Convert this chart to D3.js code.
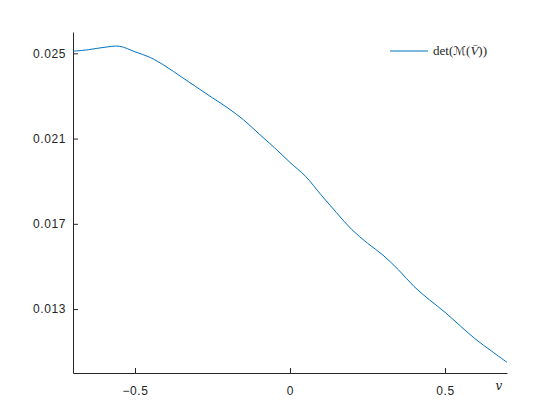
<!DOCTYPE html>
<html>
<head>
<meta charset="utf-8">
<script src="https://cdn.jsdelivr.net/npm/d3@7"></script>
<style>
  body { margin: 0; background: #fff; }
  .axis text { font-family: "Liberation Sans", Arial, sans-serif; font-size: 12px; letter-spacing: 0.6px; fill: #262626; }
  .axis path, .axis line { stroke: #262626; }
</style>
</head>
<body>
<div id="chart"></div>
<script>
// values, x step 0.05
var vValues = [-0.70, -0.65, -0.60, -0.55, -0.50, -0.45, -0.40, -0.35, -0.30, -0.25,
               -0.20, -0.15, -0.10, -0.05, 0.00, 0.05, 0.10, 0.15, 0.20, 0.25,
               0.30, 0.35, 0.40, 0.45, 0.50, 0.55, 0.60, 0.65, 0.70];
var detValues = [0.02510, 0.02517, 0.02528, 0.02533, 0.02507, 0.02480, 0.02438, 0.02389, 0.02340, 0.02291,
                 0.02243, 0.02188, 0.02122, 0.02057, 0.01988, 0.01923, 0.01836, 0.01752, 0.01672, 0.01609,
                 0.01553, 0.01484, 0.01406, 0.01343, 0.01285, 0.01220, 0.01157, 0.01103, 0.01050];
var xTicks = [-0.5, 0, 0.5];
var yTicks = [0.013, 0.017, 0.021, 0.025];

var width = 560,
    height = 420,
    margin = {top: 32, right: 53, bottom: 47, left: 73};

var svg = d3.select("#chart")
  .append("svg")
    .attr("width", width)
    .attr("height", height);

var x = d3.scaleLinear()
  .domain([-0.7, 0.7])
  .range([margin.left, width - margin.right]);

var y = d3.scaleLinear()
  .domain([0.010, 0.026])
  .range([height - margin.bottom, margin.top]);

// x axis, ticks pointing inward like matlab
svg.append("g")
  .attr("class", "axis")
  .attr("transform", "translate(0," + (height - margin.bottom) + ")")
  .call(d3.axisBottom(x).tickValues(xTicks).tickSizeInner(-5).tickSizeOuter(0)
    .tickFormat(function(d) { return d === 0 ? "0" : d3.format(".1f")(d); }))
  .call(function(g) { g.selectAll("text").attr("y", 13); });

svg.append("g")
  .attr("class", "axis")
  .attr("transform", "translate(" + margin.left + ",0)")
  .call(d3.axisLeft(y).tickValues(yTicks).tickSizeInner(-5).tickSizeOuter(0)
    .tickFormat(d3.format(".3f")))
  .call(function(g) { g.selectAll("text").attr("x", -7); });

// the curve
var line = d3.line()
  .x(function(d, i) { return x(vValues[i]); })
  .y(function(d) { return y(d); })
  .curve(d3.curveCatmullRom);

svg.append("path")
  .datum(detValues)
  .attr("d", line)
  .attr("fill", "none")
  .attr("stroke", "#0072BD")
  .attr("stroke-width", 1);

// x label
svg.append("text")
  .attr("x", 499)
  .attr("y", 390)
  .attr("text-anchor", "middle")
  .style("font-family", "'DejaVu Serif', serif")
  .style("font-style", "italic")
  .style("font-size", "12px")
  .style("fill", "#262626")
  .text("v");

// legend
svg.append("line")
  .attr("x1", 390).attr("x2", 428)
  .attr("y1", 51).attr("y2", 51)
  .attr("stroke", "#0072BD")
  .attr("stroke-width", 1);

var leg = svg.append("text")
  .attr("x", 433)
  .attr("y", 55)
  .style("font-family", "'Liberation Serif', 'DejaVu Serif', serif")
  .style("font-size", "13px")
  .style("fill", "#262626");
leg.append("tspan").text("det(");
leg.append("tspan").style("font-family", "'DejaVu Sans', sans-serif").style("font-size", "12px").text("\u2133");
leg.append("tspan").text("(");
leg.append("tspan").style("font-style", "italic").text("V\u0304");
leg.append("tspan").text("))");
</script>
</body>
</html>
